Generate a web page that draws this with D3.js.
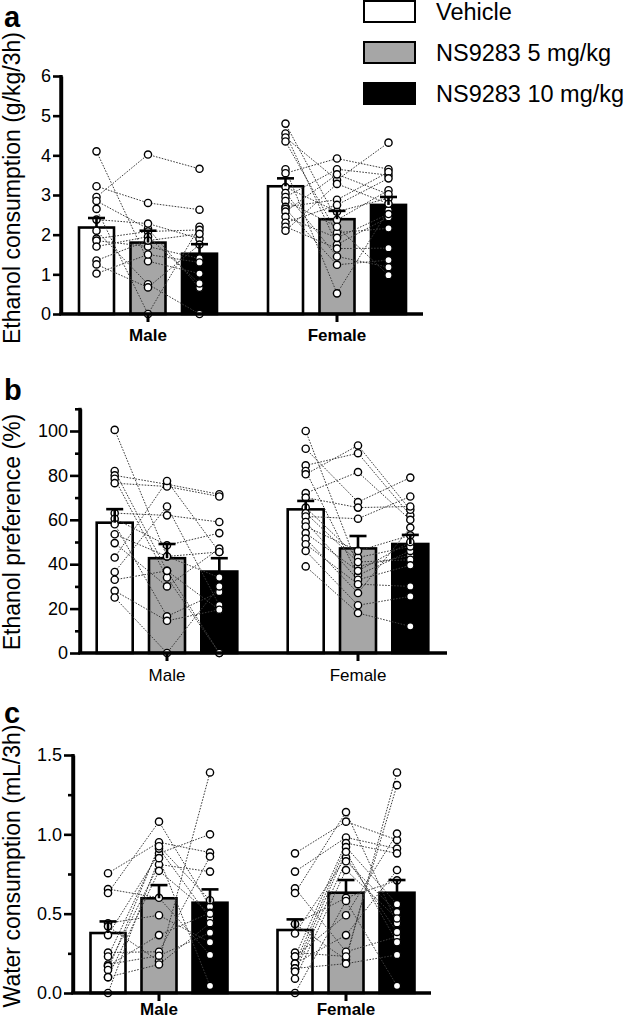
<!DOCTYPE html>
<html><head><meta charset="utf-8">
<script src="https://cdn.jsdelivr.net/npm/d3@7"></script>
<style>
body{margin:0;background:#fff}
svg{display:block}
text{font-family:"Liberation Sans",Arial,Helvetica,sans-serif;fill:#000}
</style>
</head><body>
<svg id="chart" width="630" height="1020"></svg>
<script>
// ---------- DATA ----------
const groups = ["Male", "Female"];
const treatments = ["Vehicle", "NS9283 5 mg/kg", "NS9283 10 mg/kg"];

// Panel a: Ethanol consumption (g/kg/3h)
const aTicks = [0, 1, 2, 3, 4, 5, 6];
const aMeanMale = [2.18, 1.80, 1.52];
const aSemMale = [0.24, 0.30, 0.24];
const aMeanFemale = [3.22, 2.39, 2.75];
const aSemFemale = [0.20, 0.21, 0.20];
const aMaleVeh = [4.1, 2.95, 3.22, 2.85, 2.65, 2.38, 2.1, 1.9, 1.85, 1.7, 1.35, 1.25, 1.02];
const aMale5 = [1.33, 4.02, 2.8, 2.15, 0.0, 2.28, 0.75, 2.08, 1.7, 1.95, 1.85, 0.67, 1.5];
const aMale10 = [1.02, 3.66, 2.63, 0.66, 2.2, 1.9, 0.0, 2.12, 1.4, 0.77, 2.02, 1.75, 1.3];
const aFemaleVeh = [4.8, 4.55, 4.45, 4.35, 3.65, 3.55, 3.2, 3.05, 2.95, 2.85, 2.7, 2.65, 2.58, 2.45, 2.3, 2.2, 2.1];
const aFemale5 = [2.37, 1.75, 3.38, 2.05, 0.52, 3.92, 2.58, 1.45, 3.65, 2.2, 2.88, 1.24, 3.52, 1.92, 2.75, 1.65, 3.28];
const aFemale10 = [3.12, 2.44, 4.32, 2.16, 2.62, 3.65, 2.92, 1.18, 3.5, 0.98, 3.58, 1.36, 3.02, 2.52, 3.42, 1.66, 2.78];

// Panel b: Ethanol preference (%)
const bTicks = [0, 20, 40, 60, 80, 100];
const bMinorTicks = [10, 30, 50, 70, 90, 110];
const bMeanMale = [58.7, 42.7, 36.7];
const bSemMale = [6.1, 6.4, 6.0];
const bMeanFemale = [64.7, 47.1, 49.1];
const bSemFemale = [3.8, 5.6, 4.1];
const bMaleVeh = [100.5, 82, 80, 78.5, 76.5, 63, 60.5, 58, 53.5, 49.5, 43, 36.5, 33, 28, 25];
const bMale5 = [43.5, 37, 76, 34, 75, 62, 48.5, 16.5, 43.5, 30, 77.5, 66, 37, 14.5, 0];
const bMale10 = [45.5, 19.5, 71.5, 0, 70.5, 59, 54, 27.5, 34, 47, 45.5, 21.5, 0, 19.5, 30];
const bFemaleVeh = [100, 92, 84.5, 82, 80.5, 72, 70, 65.5, 63, 61.5, 59, 57, 54, 51.5, 49, 46, 39];
const bFemale5 = [39, 68, 90, 35, 93.5, 81.5, 65.5, 43, 41, 60.5, 33, 46, 37, 27, 31, 21.5, 18];
const bFemale10 = [44, 79, 62, 46, 64.5, 60, 66, 48, 42, 70.5, 39.5, 53, 50, 56.5, 30, 25.5, 12];

// Panel c: Water consumption (mL/3h)
const cTicks = [0, 0.5, 1.0, 1.5];
const cMinorTicks = [0.25, 0.75, 1.25];
const cMeanMale = [0.378, 0.597, 0.569];
const cSemMale = [0.073, 0.083, 0.084];
const cMeanFemale = [0.397, 0.632, 0.632];
const cSemFemale = [0.067, 0.080, 0.080];
const cMaleVeh = [0.755, 0.655, 0.63, 0.44, 0.42, 0.365, 0.255, 0.23, 0.18, 0.17, 0.17, 0.145, 0.1, 0.1, 0.0];
const cMale5 = [0.95, 0.6, 1.08, 0.49, 0.2, 0.88, 0.26, 0.91, 0.235, 0.81, 0.365, 0.925, 0.77, 0.18, 0.85];
const cMale10 = [0.885, 0.24, 0.545, 0.32, 1.39, 1.0, 0.86, 0.47, 0.38, 0.765, 0.505, 0.585, 0.5, 0.44, 0.045];
const cFemaleVeh = [0.88, 0.765, 0.66, 0.63, 0.435, 0.435, 0.375, 0.255, 0.23, 0.23, 0.185, 0.185, 0.155, 0.155, 0.135, 0.09, 0.0];
const cFemale5 = [1.08, 0.98, 0.26, 1.14, 0.21, 0.6, 0.855, 0.23, 0.945, 0.49, 0.92, 0.365, 0.89, 0.185, 0.83, 0.775, 0.58];
const cFemale10 = [0.965, 0.91, 0.355, 0.44, 1.39, 0.71, 0.385, 1.31, 0.88, 1.005, 0.56, 0.775, 0.32, 0.24, 0.51, 0.47, 0.045];

// ---------- STYLE ----------
const barFill = d3.scaleOrdinal().domain(treatments).range(["#ffffff", "#a6a6a6", "#000000"]);
const FONT = '"Liberation Sans",Arial,Helvetica,sans-serif';
const svg = d3.select("#chart");

function drawPanel(cfg) {
  const g = svg.append("g");
  const y = d3.scaleLinear().domain([0, cfg.yMax]).range([cfg.y0, cfg.yTopPx]);
  const step = cfg.cFemale - cfg.cMale;
  const gx = d3.scaleBand().domain(groups).range([cfg.cMale - step / 2, cfg.cFemale + step / 2]);
  const p = 1 - cfg.bw / cfg.bs;
  const tx = d3.scaleBand().domain(treatments).range([-1.5 * cfg.bs, 1.5 * cfg.bs])
    .paddingInner(p).paddingOuter(p / 2);
  const cx = (grp, tr) => gx(grp) + gx.bandwidth() / 2 + tx(tr) + tx.bandwidth() / 2;

  const summary = [];
  groups.forEach(grp => treatments.forEach((tr, i) => {
    summary.push({grp, tr, mean: cfg.means[grp][i], sem: cfg.sems[grp][i]});
  }));

  // bars
  g.selectAll("rect.bar").data(summary).join("rect").attr("class", "bar")
    .attr("x", d => cx(d.grp, d.tr) - tx.bandwidth() / 2)
    .attr("width", tx.bandwidth())
    .attr("y", d => y(d.mean))
    .attr("height", d => y(0) - y(d.mean))
    .attr("fill", d => barFill(d.tr))
    .attr("stroke", "#000").attr("stroke-width", 2.6);

  // subject lines
  const line = d3.line().x(d => d[0]).y(d => d[1]);
  groups.forEach(grp => {
    const sets = cfg.points[grp];
    const n = sets[0].length;
    const paths = d3.range(n).map(i => treatments.map((tr, t) => [cx(grp, tr), y(sets[t][i])]));
    g.append("g").selectAll("path").data(paths).join("path")
      .attr("d", line).attr("fill", "none")
      .attr("stroke", "#3a3a3a").attr("stroke-width", 1)
      .attr("stroke-dasharray", "1.6 1.4");
  });

  // points
  groups.forEach(grp => {
    treatments.forEach((tr, t) => {
      g.append("g").selectAll("circle").data(cfg.points[grp][t]).join("circle")
        .attr("cx", cx(grp, tr)).attr("cy", d => y(d)).attr("r", 3.6)
        .attr("fill", "#fff").attr("stroke", "#000").attr("stroke-width", 1.4);
    });
  });

  // error bars (mean + SEM)
  const eb = g.append("g").attr("stroke", "#000").attr("stroke-width", 2.6);
  eb.selectAll("line.v").data(summary).join("line").attr("class", "v")
    .attr("x1", d => cx(d.grp, d.tr)).attr("x2", d => cx(d.grp, d.tr))
    .attr("y1", d => y(d.mean)).attr("y2", d => y(d.mean + d.sem));
  eb.selectAll("line.cap").data(summary).join("line").attr("class", "cap")
    .attr("x1", d => cx(d.grp, d.tr) - 8.5).attr("x2", d => cx(d.grp, d.tr) + 8.5)
    .attr("y1", d => y(d.mean + d.sem)).attr("y2", d => y(d.mean + d.sem));

  // y axis
  const ya = g.append("g").attr("transform", `translate(${cfg.x0},0)`)
    .call(d3.axisLeft(y).tickValues(cfg.ticks).tickFormat(cfg.fmt)
      .tickSize(cfg.tMaj).tickPadding(2).tickSizeOuter(0));
  ya.select(".domain").attr("stroke-width", 3.4);
  ya.selectAll(".tick line").attr("stroke-width", 2.6);
  ya.selectAll(".tick text").attr("font-size", 18).attr("font-family", FONT);
  if (cfg.minor) {
    const ym = g.append("g").attr("transform", `translate(${cfg.x0},0)`)
      .call(d3.axisLeft(y).tickValues(cfg.minor).tickFormat("").tickSize(5).tickSizeOuter(0));
    ym.select(".domain").remove();
    ym.selectAll(".tick line").attr("stroke-width", 2.6);
  }
  g.append("line").attr("x1", cfg.x0).attr("x2", cfg.x0)
    .attr("y1", y(0)).attr("y2", y(cfg.yMax) - 1).attr("stroke", "#000").attr("stroke-width", 3.4);

  // x axis
  g.append("line").attr("x1", cfg.x0 - 1.7).attr("x2", cfg.x1)
    .attr("y1", y(0)).attr("y2", y(0)).attr("stroke", "#000").attr("stroke-width", 3.4);
  const xa = g.append("g").attr("transform", `translate(0,${y(0)})`)
    .call(d3.axisBottom(gx).tickSize(8).tickPadding(cfg.xPad).tickSizeOuter(0));
  xa.select(".domain").remove();
  xa.selectAll(".tick line").attr("stroke-width", 3);
  xa.selectAll(".tick text").attr("font-size", 17).attr("font-family", FONT)
    .attr("font-weight", cfg.boldX ? "bold" : "normal");

  // y title
  g.append("text").attr("transform", `translate(${cfg.titleX},${cfg.titleY}) rotate(-90)`)
    .attr("text-anchor", "middle").attr("font-size", 23).text(cfg.title);

  // panel letter
  g.append("text").attr("x", 4).attr("y", cfg.letterY).attr("font-size", 29)
    .attr("font-weight", "bold").text(cfg.letter);
}

drawPanel({
  letter: "a", letterY: 27,
  title: "Ethanol consumption (g/kg/3h)", titleX: 20, titleY: 188,
  yMax: 6, y0: 314, yTopPx: 76, x0: 61, x1: 423,
  cMale: 148, cFemale: 337, bw: 35, bs: 51.5,
  ticks: aTicks, fmt: d3.format("d"), tMaj: 8, minor: null,
  means: {Male: aMeanMale, Female: aMeanFemale},
  sems: {Male: aSemMale, Female: aSemFemale},
  points: {Male: [aMaleVeh, aMale5, aMale10], Female: [aFemaleVeh, aFemale5, aFemale10]},
  xPad: 7, boldX: true
});

drawPanel({
  letter: "b", letterY: 400,
  title: "Ethanol preference (%)", titleX: 20, titleY: 532,
  yMax: 110, y0: 653, yTopPx: 653 - 222 * 1.1, x0: 80, x1: 447,
  cMale: 167, cFemale: 358, bw: 36, bs: 52.3,
  ticks: bTicks, fmt: d3.format("d"), tMaj: 10, minor: bMinorTicks,
  means: {Male: bMeanMale, Female: bMeanFemale},
  sems: {Male: bSemMale, Female: bSemFemale},
  points: {Male: [bMaleVeh, bMale5, bMale10], Female: [bFemaleVeh, bFemale5, bFemale10]},
  xPad: 8, boldX: false
});

drawPanel({
  letter: "c", letterY: 723,
  title: "Water consumption (mL/3h)", titleX: 20, titleY: 866,
  yMax: 1.5, y0: 993, yTopPx: 755, x0: 73, x1: 431,
  cMale: 159, cFemale: 346, bw: 35, bs: 51,
  ticks: cTicks, fmt: d3.format(".1f"), tMaj: 9, minor: cMinorTicks,
  means: {Male: cMeanMale, Female: cMeanFemale},
  sems: {Male: cSemMale, Female: cSemFemale},
  points: {Male: [cMaleVeh, cMale5, cMale10], Female: [cFemaleVeh, cFemale5, cFemale10]},
  xPad: 2, boldX: true
});

// legend
const leg = svg.append("g");
const legY = d3.scalePoint().domain(treatments).range([11, 93]);
leg.selectAll("rect").data(treatments).join("rect")
  .attr("x", 364).attr("width", 51).attr("y", d => legY(d) - 10).attr("height", 21)
  .attr("fill", d => barFill(d)).attr("stroke", "#000").attr("stroke-width", 2);
leg.selectAll("text").data(treatments).join("text")
  .attr("x", 436).attr("y", d => legY(d) + 9).attr("font-size", 23.5).text(d => d);
</script>
</body></html>
